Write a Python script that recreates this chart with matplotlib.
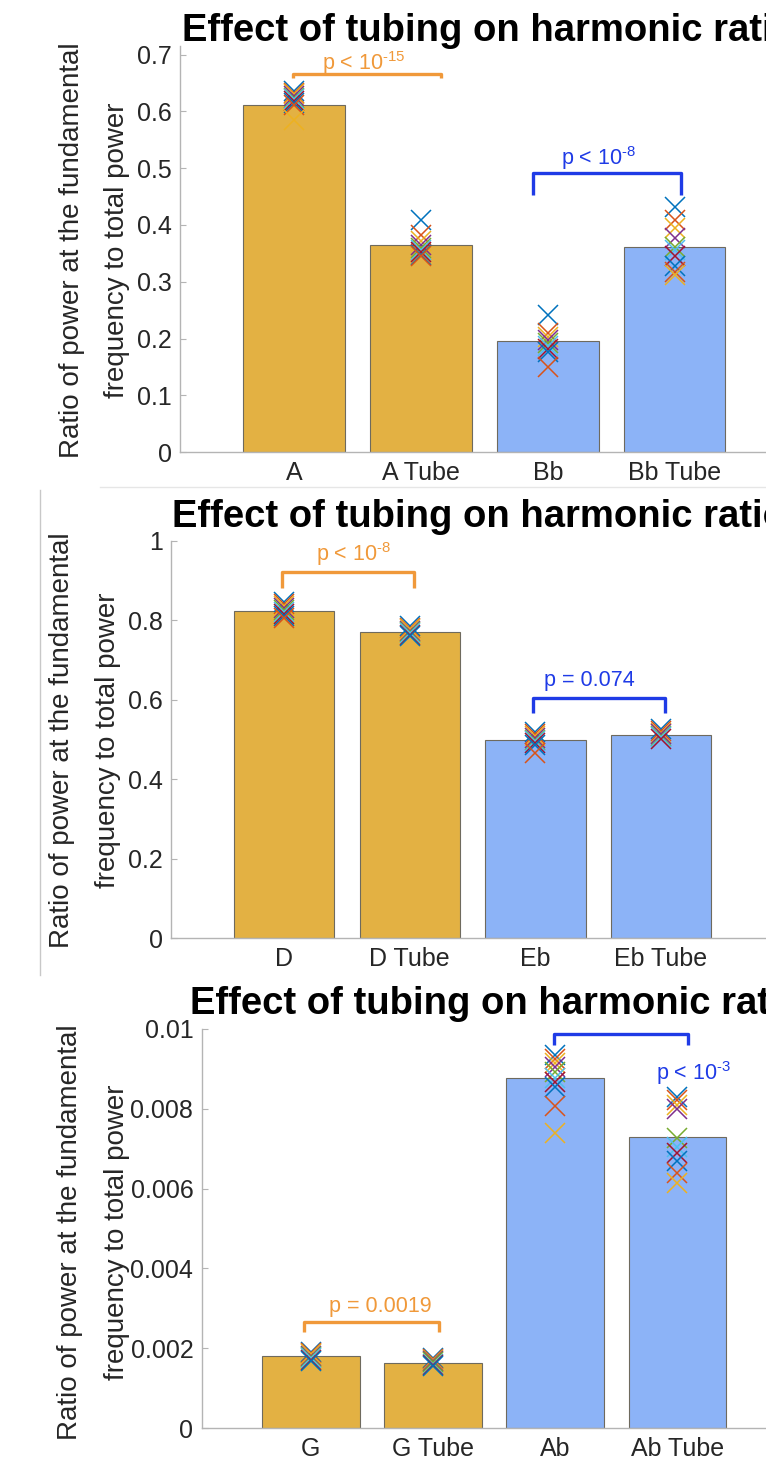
import matplotlib.pyplot as plt
from matplotlib.lines import Line2D

plt.rcParams["font.family"] = ["Liberation Sans", "DejaVu Sans"]
plt.rcParams["mathtext.fontset"] = "custom"
plt.rcParams["mathtext.rm"] = "Liberation Sans"
plt.rcParams["mathtext.it"] = "Liberation Sans:italic"

W, H = 766, 1462
GOLD = "#E3B143"
BLUE_BAR = "#8CB3F7"
EDGE = "#6e6a5e"
ORANGE = "#F0993A"
BLUE = "#1F3BE6"
TICK = "#262626"
SPINE = "#b4b4b4"
CYCLE = ["#0072BD", "#D95319", "#EDB120", "#7E2F8E", "#77AC30", "#4DBEEE", "#A2142F"]

TITLE = "Effect of tubing on harmonic ratio"
YLAB1 = "Ratio of power at the fundamental"
YLAB2 = "frequency to total power"

# panel 1
cats1 = ["A", "A Tube", "Bb", "Bb Tube"]
bars1 = [0.612, 0.365, 0.195, 0.362]
pts1 = [
    [0.636, 0.633, 0.630, 0.627, 0.624, 0.621, 0.618, 0.615, 0.612, 0.585],
    [0.408, 0.382, 0.372, 0.365, 0.360, 0.356, 0.352, 0.348, 0.345],
    [0.242, 0.210, 0.203, 0.197, 0.192, 0.187, 0.182, 0.176, 0.150],
    [0.432, 0.409, 0.395, 0.377, 0.362, 0.356, 0.345, 0.327, 0.318, 0.312],
]
p1 = ["p < 10$^{\u201015}$", "p < 10$^{\u20108}$"]

# panel 2
cats2 = ["D", "D Tube", "Eb", "Eb Tube"]
bars2 = [0.822, 0.771, 0.500, 0.511]
pts2 = [
    [0.845, 0.840, 0.835, 0.830, 0.825, 0.820, 0.815, 0.810, 0.805],
    [0.785, 0.781, 0.777, 0.774, 0.770, 0.767, 0.764, 0.760],
    [0.520, 0.515, 0.510, 0.505, 0.500, 0.497, 0.490, 0.485, 0.465],
    [0.527, 0.522, 0.517, 0.513, 0.510, 0.506, 0.502],
]
p2 = ["p < 10$^{\u20108}$", "p = 0.074"]

# panel 3
cats3 = ["G", "G Tube", "Ab", "Ab Tube"]
bars3 = [0.00180, 0.00164, 0.00876, 0.00729]
pts3 = [
    [0.00192, 0.00188, 0.00185, 0.00182, 0.00179, 0.00176, 0.00172, 0.00168],
    [0.00177, 0.00174, 0.00171, 0.00168, 0.00165, 0.00162, 0.00159, 0.00156],
    [0.00935, 0.00924, 0.00915, 0.00903, 0.00892, 0.00876, 0.00866, 0.00855, 0.00807, 0.00740],
    [0.00830, 0.00822, 0.00809, 0.00800, 0.00726, 0.00705, 0.00690, 0.00670, 0.00640, 0.00615],
]
p3 = ["p = 0.0019", "p < 10$^{\u20103}$"]


def fy(y):
    return 1 - y / H


def panel(rect, cats, bars, pts, ylim, yticks, yfmt, xlim, brackets, title_xy, ylab_x, ylab_y):
    l, t, b = rect
    x0 = l / W
    ax = fig.add_axes([x0, fy(b), 1 - x0, fy(t) - fy(b)])
    xs = [1, 2, 3, 4]
    cols = [GOLD, GOLD, BLUE_BAR, BLUE_BAR]
    ax.bar(xs, bars, width=0.8, color=cols, edgecolor=EDGE, linewidth=0.8, zorder=2)
    for x, vals in zip(xs, pts):
        for i, v in enumerate(vals):
            ax.plot(x, v, marker="x", ms=14, mew=1.1, color=CYCLE[i % len(CYCLE)], zorder=3)
    for (xa, xb, ylo, yhi, col, lab, tx, ty) in brackets:
        ax.plot([xa, xa, xb, xb], [ylo, yhi, yhi, ylo], color=col, lw=2.4,
                solid_capstyle="butt", zorder=4)
        ax.text(tx, ty, lab, color=col, fontsize=15.5, ha="center", va="baseline")
    ax.set_xlim(*xlim)
    ax.set_ylim(*ylim)
    ax.set_yticks(yticks)
    ax.set_yticklabels([yfmt(v) for v in yticks])
    ax.set_xticks(xs)
    ax.set_xticklabels(cats)
    for s in ("top", "right"):
        ax.spines[s].set_visible(False)
    for s in ("left", "bottom"):
        ax.spines[s].set_color(SPINE)
        ax.spines[s].set_linewidth(1.0)
    ax.tick_params(axis="y", direction="in", length=4, color=SPINE, labelsize=18,
                   labelcolor=TICK, pad=6)
    ax.tick_params(axis="x", length=0, labelsize=18, labelcolor=TICK, pad=6)
    fig.text(title_xy[0] / W, fy(title_xy[1]), TITLE, fontsize=27.5, fontweight="bold",
             ha="left", va="baseline")
    fig.text(ylab_x[0] / W, fy(ylab_y), YLAB1, rotation=90, fontsize=20, color=TICK,
             ha="center", va="center")
    fig.text(ylab_x[1] / W, fy(ylab_y), YLAB2, rotation=90, fontsize=20, color=TICK,
             ha="center", va="center")
    return ax


fig = plt.figure(figsize=(W / 100, H / 100), dpi=100)

# faint screenshot borders
fig.add_artist(Line2D([100 / W, 1], [fy(487), fy(487)], color="#e6e6e6", lw=1))
fig.add_artist(Line2D([40 / W, 40 / W], [fy(490), fy(975)], color="#c8c8c8", lw=1))

panel((180, 46, 452.3), cats1, bars1, pts1, (0, 0.715),
      [0, 0.1, 0.2, 0.3, 0.4, 0.5, 0.6, 0.7], lambda v: "0" if v == 0 else f"{v:.1f}",
      (0.101, 4.72),
      [(0.99, 2.157, 0.658, 0.666, ORANGE, p1[0], 1.55, 0.672),
       (2.887, 4.05, 0.453, 0.491, BLUE, p1[1], 3.4, 0.505)],
      (182, 41), (72, 117), 250)

panel((171, 540.7, 938.3), cats2, bars2, pts2, (0, 1.0),
      [0, 0.2, 0.4, 0.6, 0.8, 1.0], lambda v: f"{v:g}",
      (0.099, 4.836),
      [(0.985, 2.036, 0.880, 0.922, ORANGE, p2[0], 1.55, 0.950),
       (2.978, 4.03, 0.566, 0.604, BLUE, p2[1], 3.43, 0.635)],
      (172, 527), (62, 108), 740)

panel((201.7, 1028.7, 1428.3), cats3, bars3, pts3, (0, 0.01),
      [0, 0.002, 0.004, 0.006, 0.008, 0.01], lambda v: f"{v:g}",
      (0.107, 4.725),
      [(0.944, 2.05, 0.00242, 0.00267, ORANGE, p3[0], 1.57, 0.00292),
       (2.99, 4.09, 0.00959, 0.00987, BLUE, p3[1], 4.13, 0.00872)],
      (190, 1014), (70, 117), 1232)

fig.savefig("out.png", dpi=100)
